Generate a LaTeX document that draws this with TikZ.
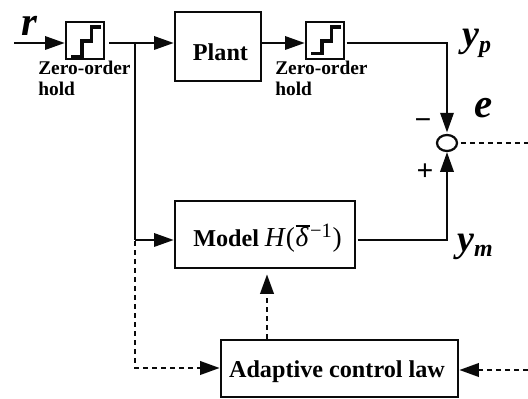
\documentclass[tikz,border=0pt]{standalone}
\usepackage{fontspec}
\setmainfont{Liberation Serif}
\usepackage{xcolor}
\usetikzlibrary{arrows.meta,calc,shapes.geometric}
\definecolor{figline}{RGB}{10,10,10}
\tikzset{
  blk/.style  ={draw=figline, line width=1.8pt, inner sep=0pt},
  sig/.style  ={draw=figline, line width=1.6pt, -{Triangle[length=14pt,width=9.5pt]}},
  wire/.style ={draw=figline, line width=1.6pt},
  dsh/.style  ={line width=2pt, dash pattern=on 3.6pt off 2.8pt},
  stair/.style={draw=figline, line width=2.4pt},
  lab/.style  ={font=\fontsize{17.2}{19}\selectfont\bfseries, inner sep=0pt},
  labs/.style ={font=\fontsize{13.8}{15.5}\selectfont\bfseries, inner sep=0pt, align=left},
  var/.style  ={font=\fontsize{29}{31}\selectfont\bfseries\itshape, inner sep=0pt},
  sgn/.style  ={font=\fontsize{21}{23}\selectfont\bfseries, inner sep=0pt},
}

\begin{document}
\begin{tikzpicture}[x=0.025cm,y=-0.025cm]
  \useasboundingbox (0,0) rectangle (528,399);
  % blocks
  \node[blk,minimum width=38*0.025cm,minimum height=37*0.025cm] (zohin) at (85,40.5) {};
  \node[blk,minimum width=38*0.025cm,minimum height=37*0.025cm] (zohout) at (325,40.5) {};
  \node[blk,minimum width=86*0.025cm,minimum height=69*0.025cm] (plant) at (218,46.5) {};
  \node[lab] (plantlab) at (220.5,52) {Plant};
  \node[blk,minimum width=180*0.025cm,minimum height=67*0.025cm] (model) at (265,234.5) {};
  \node[lab,anchor=base west] (modellab) at (193,247) {Model};
  \node[anchor=base west,inner sep=0pt,font=\fontsize{19.5}{21}\selectfont] (modelh) at (264.5,247)
    {\textit{H}(\kern0.5pt\rlap{\raisebox{14pt}{\rule{10pt}{1.5pt}}}\textit{δ}\kern1pt\raisebox{7pt}{\fontsize{14.5}{16}\selectfont\textminus 1}\kern0.5pt)};
  \node[blk,minimum width=237*0.025cm,minimum height=57*0.025cm] (adapt) at (339.5,368.5) {};
  \node[lab] (adaptlab) at (337,372) {Adaptive control law};
  \node[draw=figline,line width=1.6pt,ellipse,minimum width=20*0.025cm,minimum height=16*0.025cm,inner sep=0pt] (sum) at (447,143) {};
  % stairs in the holds
  \foreach \hold/\low in {zohin/16.5,zohout/13} {
    \begin{scope}[shift=(\hold.center)]
      \draw[stair] (-14,\low) -- (-3,\low) -- (-3,0.5) -- (6.5,0.5) -- (6.5,-13.5) -- (15.5,-13.5);
    \end{scope}
  }
  % labels
  \node[labs,anchor=north west] (holdin) at (38,61) {Zero-order\\[-1pt]hold};
  \node[labs,anchor=north west] (holdout) at (275,61) {Zero-order\\[-1pt]hold};
  \node[var] (rlab) at (29,26) {r};
  \node[var,anchor=base west,font=\fontsize{27}{29}\selectfont\bfseries\itshape] (yplab) at (462,47) {y\raisebox{-4pt}{\fontsize{17}{19}\selectfont p}};
  \node[var,anchor=base west,font=\fontsize{27}{29}\selectfont\bfseries\itshape] (ymlab) at (457,252) {y\raisebox{-3pt}{\fontsize{17}{19}\selectfont m}};
  \node[var] (elab) at (484,108) {e};
  \node[sgn] (minus) at (423,124) {\textminus};
  \node[sgn] (plus) at (425,172) {+};
  % free ends and corners
  \coordinate (rin) at (14,43);
  \coordinate (tap) at (135,43);
  \coordinate (tapm) at (135,240);
  \coordinate (cornerp) at (447,43);
  \coordinate (cornerm) at (447,240);
  \coordinate (eout) at (528,143);
  \coordinate (ein) at (528,370);
  \coordinate (dleft) at (135,368);
  % solid connectors
  \draw[sig] (rin) -- (zohin.west |- rin);
  \draw[wire,shorten <=3pt] (zohin.east |- tap) -- (tap);
  \draw[sig] (tap) -- (plant.west |- tap);
  \draw[sig] (plant.east |- tap) -- (zohout.west |- tap);
  \draw[wire] (tap) -- (tapm);
  \draw[sig] (tapm) -- (model.west |- tapm);
  \draw[sig,shorten <=1pt,shorten >=1pt] (zohout.east |- tap) -- (cornerp) -- (sum.north);
  \draw[sig,shorten <=1pt] (model.east |- cornerm) -- (cornerm) -- (sum.south);
  % dashed connectors
  \draw[sig,dsh,shorten <=1pt] (tapm) -- (dleft) -- (adapt.west |- dleft);
  \draw[sig,dsh] (adapt.north -| {$(model.south)+(2,0)$}) -- ($(model.south)+(2,5)$);
  \draw[wire,dsh,shorten <=2pt] (sum.east) -- (eout);
  \draw[sig,dsh] (ein) -- (adapt.east |- ein);
\end{tikzpicture}
\end{document}
